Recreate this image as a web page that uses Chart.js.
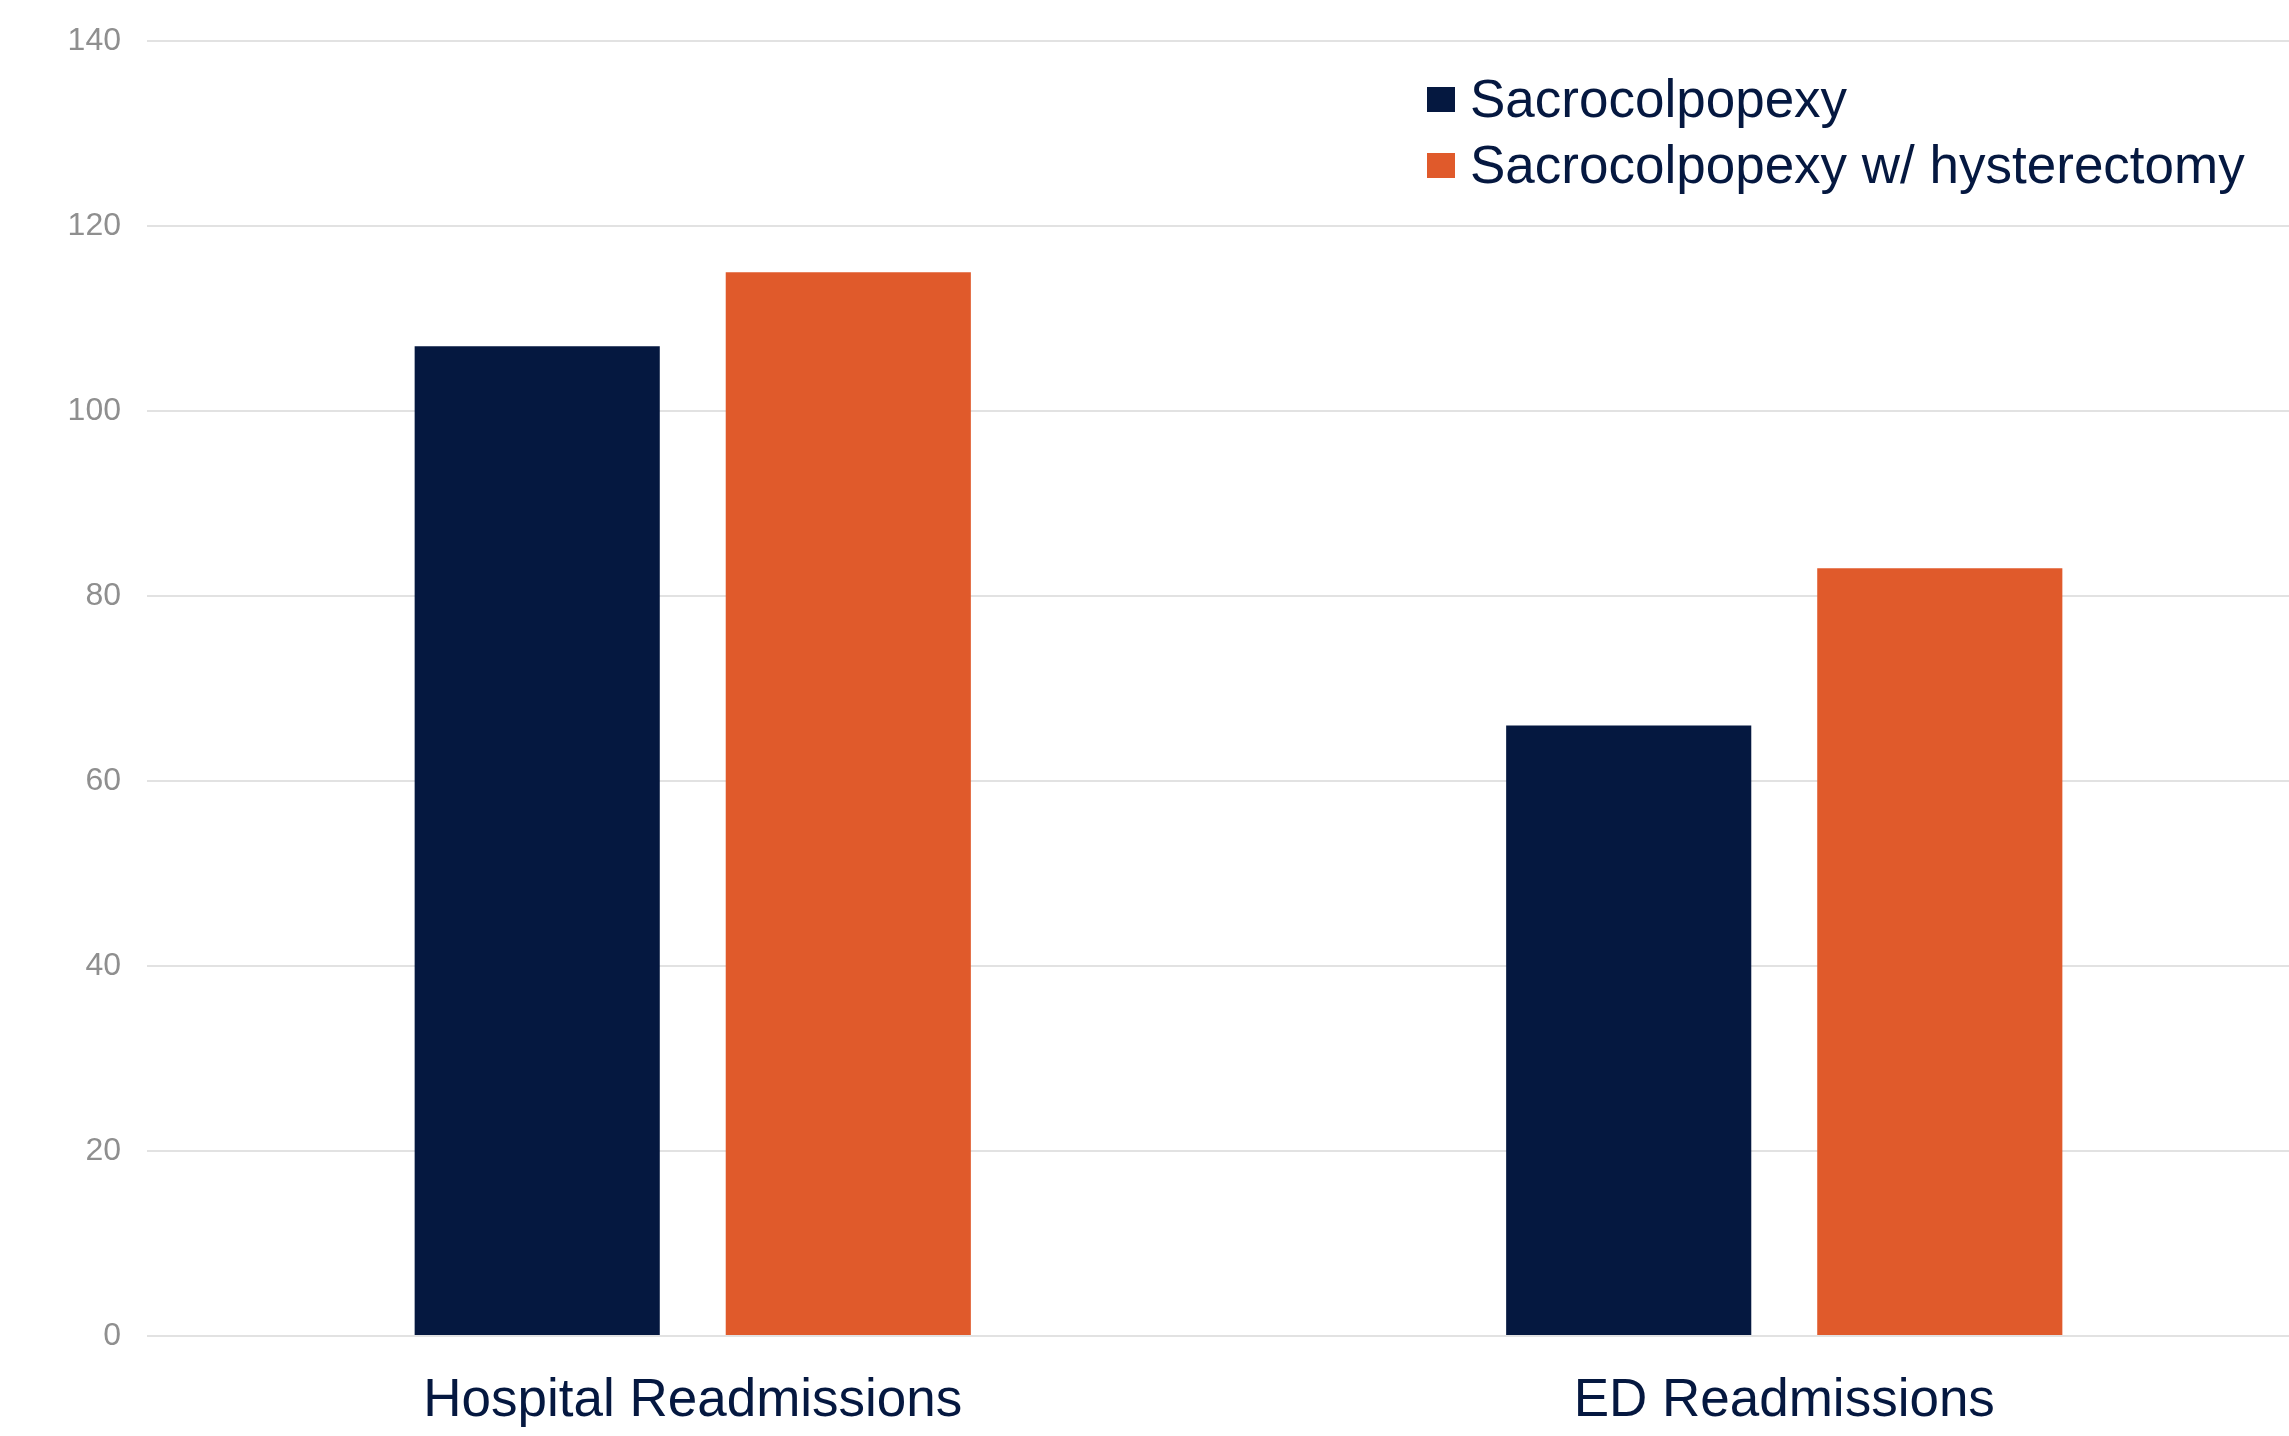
<!DOCTYPE html>
<html>
<head>
<meta charset="utf-8">
<script src="https://cdn.jsdelivr.net/npm/chart.js@4/dist/chart.umd.min.js"></script>
<style>
  html, body { margin: 0; padding: 0; background: #ffffff; overflow: hidden; }
  #wrap { position: relative; width: 2330px; height: 1436px; }
</style>
</head>
<body>
<div id="wrap"><canvas id="c"></canvas></div>
<script>
const categories = ["Hospital Readmissions", "ED Readmissions"];
const seriesNames = ["Sacrocolpopexy", "Sacrocolpopexy w/ hysterectomy"];
const sacrocolpopexy = [107, 66];
const withHysterectomy = [115, 83];
const yTicks = [0, 20, 40, 60, 80, 100, 120, 140];

const NAVY = "#051840";
const ORANGE = "#e05a2b";

const legendPlugin = {
  id: "customLegend",
  afterDraw(chart) {
    const ctx = chart.ctx;
    ctx.save();
    ctx.font = "53px 'Liberation Sans', Arial, sans-serif";
    ctx.textBaseline = "alphabetic";
    ctx.textAlign = "left";
    chart.data.datasets.forEach((ds, i) => {
      const baseY = 117 + i * 66;
      ctx.fillStyle = ds.backgroundColor;
      ctx.fillRect(1427, baseY - 30, 28, 25);
      ctx.fillStyle = NAVY;
      ctx.fillText(ds.label, 1470, baseY);
    });
    ctx.restore();
  }
};

new Chart(document.getElementById("c"), {
  type: "bar",
  data: {
    labels: categories,
    datasets: [
      { label: seriesNames[0], data: sacrocolpopexy, backgroundColor: NAVY },
      { label: seriesNames[1], data: withHysterectomy, backgroundColor: ORANGE }
    ]
  },
  options: {
    responsive: true,
    maintainAspectRatio: false,
    animation: false,
    layout: { padding: { top: 41, left: 0, right: 0, bottom: 0 } },
    datasets: { bar: { categoryPercentage: 0.57, barPercentage: 0.788 } },
    plugins: { legend: { display: false }, tooltip: { enabled: false } },
    scales: {
      x: {
        grid: { display: false, drawTicks: false },
        border: { display: false },
        ticks: {
          color: NAVY,
          padding: 34,
          maxRotation: 0,
          autoSkip: false,
          font: { family: "'Liberation Sans', Arial, sans-serif", size: 53 }
        },
        afterFit(scale) { scale.height = 100; }
      },
      y: {
        min: 0,
        max: 140,
        afterBuildTicks(scale) { scale.ticks = yTicks.map(v => ({ value: v })); },
        grid: { color: "#e2e2e2", lineWidth: 2, drawTicks: false },
        border: { display: false },
        ticks: {
          color: "#8f8f8f",
          padding: 26,
          font: { family: "'Liberation Sans', Arial, sans-serif", size: 32 }
        },
        afterFit(scale) {
          scale.width = 147;
          scale.paddingTop = 0;
          scale.paddingBottom = 0;
        }
      }
    }
  },
  plugins: [legendPlugin]
});
</script>
</body>
</html>
